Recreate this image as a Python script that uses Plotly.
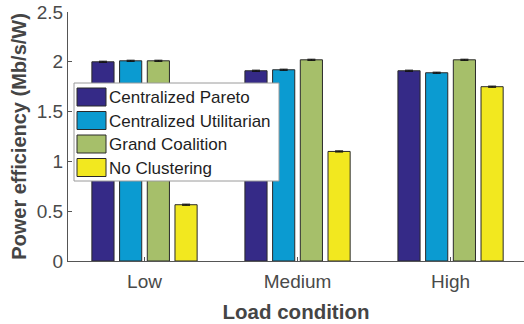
import plotly.graph_objects as go

# Power efficiency (Mb/s/W) per load condition and clustering scheme
load_conditions = ["Low", "Medium", "High"]
series_names = ["Centralized Pareto", "Centralized Utilitarian", "Grand Coalition", "No Clustering"]
centralized_pareto = [2.00, 1.91, 1.91]
centralized_utilitarian = [2.01, 1.92, 1.89]
grand_coalition = [2.01, 2.02, 2.02]
no_clustering = [0.565, 1.10, 1.75]
error_half_width = [0.006, 0.006, 0.006]

series_values = [centralized_pareto, centralized_utilitarian, grand_coalition, no_clustering]
colors = ["#352a87", "#0b9bd1", "#a6bf6a", "#f2e81f"]

W, H = 524, 324
ML, MR, MT, MB = 68, 0, 12, 63
PW, PH = W - ML - MR, H - MT - MB
FONT = "Liberation Sans, Arial"

fig = go.Figure()
for name, vals, col in zip(series_names, series_values, colors):
    fig.add_trace(go.Bar(
        x=load_conditions, y=vals, name=name,
        marker=dict(color=col, line=dict(color="#2a2a2a", width=1)),
        error_y=dict(type="data", array=error_half_width, color="#111111",
                     thickness=1, width=4),
        showlegend=False,
    ))

# Legend drawn as boxes and labels in paper coordinates
def px_x(p):
    return (p - ML) / PW

def px_y(p):
    return (H - MB - p) / PH

shapes = [dict(type="rect", xref="paper", yref="paper",
               x0=px_x(74), x1=px_x(279), y0=px_y(181), y1=px_y(83),
               fillcolor="white", line=dict(color="#9a9a9a", width=1), layer="above")]
annotations = []
row_center = [97, 120.5, 144, 167.5]
for name, col, yc in zip(series_names, colors, row_center):
    shapes.append(dict(type="rect", xref="paper", yref="paper",
                       x0=px_x(77), x1=px_x(106), y0=px_y(yc + 9), y1=px_y(yc - 9),
                       fillcolor=col, line=dict(color="#2a2a2a", width=1), layer="above"))
    annotations.append(dict(x=px_x(107), y=px_y(yc + 0.5), xref="paper", yref="paper",
                            text=name, showarrow=False, xanchor="left", yanchor="middle",
                            font=dict(family=FONT, size=17, color="#1e1e1e")))

fig.update_layout(
    width=W, height=H,
    margin=dict(l=ML, r=MR, t=MT, b=MB, pad=0, autoexpand=False),
    paper_bgcolor="white", plot_bgcolor="white",
    barmode="group", bargap=0.276, bargroupgap=0.2,
    font=dict(family=FONT, color="#4a4a4a"),
    shapes=shapes, annotations=annotations,
    xaxis=dict(
        range=[-0.5, 2.48], showline=True, linecolor="#555555", linewidth=1,
        ticks="inside", ticklen=4, tickcolor="#555555", ticklabelstandoff=3,
        tickfont=dict(size=19, color="#4a4a4a"),
        title=dict(text="<b>Load condition</b>", font=dict(size=20.5, color="#454545"), standoff=13),
        showgrid=False, zeroline=False, automargin=False,
    ),
    yaxis=dict(
        range=[0, 2.5], dtick=0.5,
        showline=True, linecolor="#555555", linewidth=1,
        ticks="inside", ticklen=4, tickcolor="#555555",
        tickfont=dict(size=19, color="#4a4a4a"),
        title=dict(text="<b>Power efficiency (Mb/s/W)</b>", font=dict(size=20, color="#454545"), standoff=4),
        showgrid=False, zeroline=False, automargin=False,
    ),
)

fig.write_html("out.html")
